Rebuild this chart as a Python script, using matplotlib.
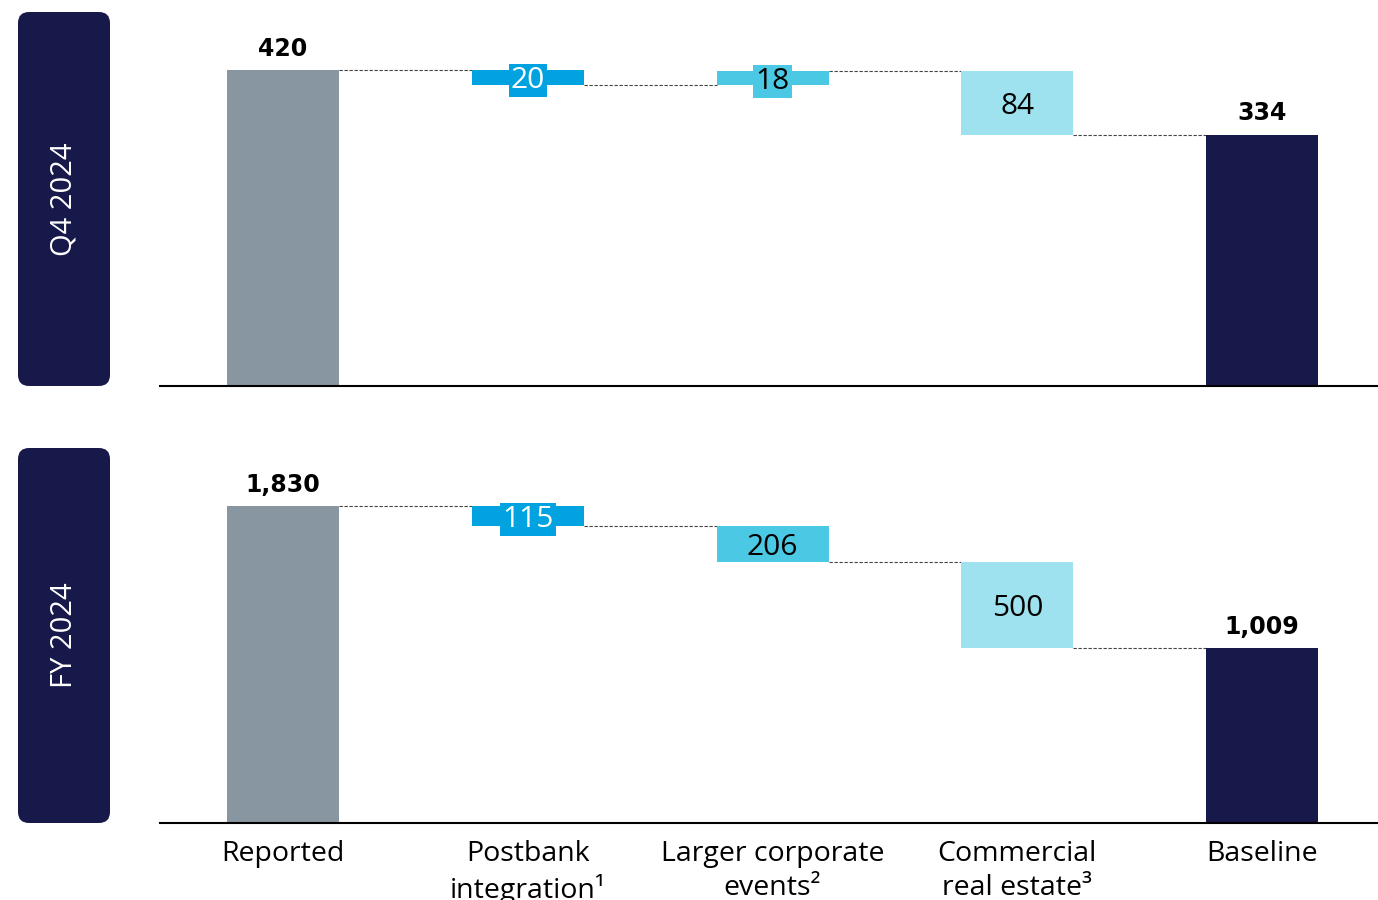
import matplotlib
matplotlib.use("Agg")
import matplotlib.pyplot as plt
from matplotlib.patches import FancyBboxPatch

plt.rcParams['font.family'] = ['Open Sans', 'DejaVu Sans']

categories = ["Reported", "Postbank\nintegration¹", "Larger corporate\nevents²",
              "Commercial\nreal estate³", "Baseline"]
panel_titles = ["Q4 2024", "FY 2024"]
q4_start = 420
q4_deltas = [-20, 18, -84]
q4_end = 334
fy_start = 1830
fy_deltas = [-115, -206, -500]
fy_end = 1009
start_labels = ["420", "1,830"]
end_labels = ["334", "1,009"]

C_REPORTED = "#8896A2"
C_BASE = "#18194B"
C_DELTA = ["#00A3E0", "#4BC8E3", "#9FE2EF"]
C_DELTA_TEXT = ["white", "black", "black"]

fig = plt.figure(figsize=(13.78, 9.0), dpi=100)

panels = [(q4_start, q4_deltas, q4_end), (fy_start, fy_deltas, fy_end)]
axes_rects = [(160/1378, 1-386/900, 1-160/1378, 374/900),
              (160/1378, 1-823/900, 1-160/1378, 375/900)]
box_rects = [(18, 12, 92, 374), (18, 448, 92, 375)]

W = 0.458
for p, (start, deltas, end) in enumerate(panels):
    ax = fig.add_axes(axes_rects[p])
    ymax = start * 1.183
    ax.set_ylim(0, ymax)
    ax.set_xlim(-0.503, 4.474)
    for s in ["top", "right", "left"]:
        ax.spines[s].set_visible(False)
    ax.spines["bottom"].set_linewidth(1.5)
    ax.set_yticks([])
    ax.tick_params(axis="x", length=0, pad=12)
    ax.set_xticks(range(len(categories)))
    if p == 1:
        ax.set_xticklabels(categories, fontsize=20.5, linespacing=1.28, va="top")
    else:
        ax.set_xticklabels([])

    # start bar
    ax.bar(0, start, width=W, color=C_REPORTED)
    ax.text(0, start + ymax*0.025, start_labels[p], ha="center", va="bottom",
            fontsize=17, fontweight="bold", family="DejaVu Sans")
    levels = [start]
    run = start
    for i, d in enumerate(deltas):
        x = i + 1
        bottom = min(run, run + d)
        ax.bar(x, abs(d), bottom=bottom, width=W, color=C_DELTA[i])
        mid = bottom + abs(d) / 2
        if abs(d) / ymax < 0.07:
            ax.text(x, mid, str(abs(d)), ha="center", va="center_baseline", fontsize=21.5,
                    color=C_DELTA_TEXT[i],
                    bbox=dict(boxstyle="square,pad=0.07", fc=C_DELTA[i], ec="none"))
        else:
            ax.text(x, mid, str(abs(d)), ha="center", va="center_baseline", fontsize=21.5,
                    color=C_DELTA_TEXT[i])
        run = run + d
        levels.append(run)
    ax.bar(4, end, width=W, color=C_BASE)
    ax.text(4, end + ymax*0.025, end_labels[p], ha="center", va="bottom",
            fontsize=17, fontweight="bold", family="DejaVu Sans")
    for i, lv in enumerate(levels):
        ax.hlines(lv, i + W/2, i + 1 - W/2, colors="#444444", linestyles=(0, (3, 1.5)),
                  linewidth=0.8, zorder=0)

    # left side label box
    bx, by, bw, bh = box_rects[p]
    r = FancyBboxPatch((bx/1378, 1-(by+bh)/900), bw/1378, bh/900,
                       boxstyle="round,pad=0,rounding_size=0.008",
                       transform=fig.transFigure, fc=C_BASE, ec="none",
                       mutation_aspect=1378/900)
    fig.patches.append(r)
    fig.text((bx+bw/2)/1378, 1-(by+bh/2)/900, panel_titles[p], rotation=90,
             ha="center", va="center", color="white", fontsize=21)

fig.savefig("out.png", dpi=100)
